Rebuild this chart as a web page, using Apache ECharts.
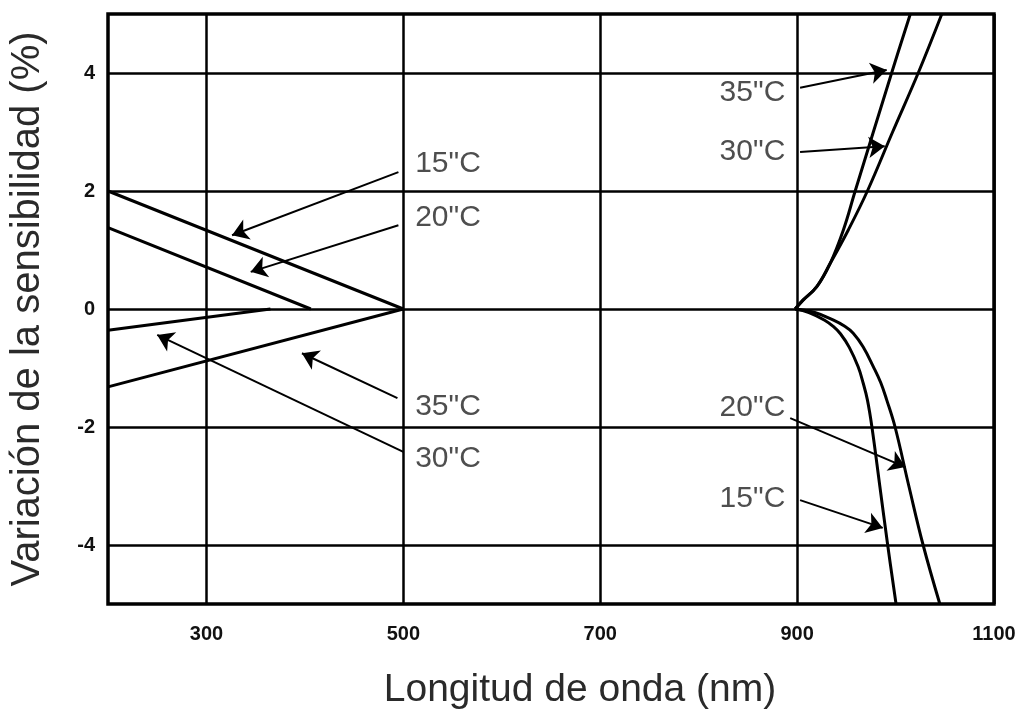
<!DOCTYPE html>
<html>
<head>
<meta charset="utf-8">
<script src="https://cdn.jsdelivr.net/npm/echarts@6/dist/echarts.min.js"></script>
<style>
html,body{margin:0;padding:0;background:#fff;}
#chart{width:1025px;height:710px;}
</style>
</head>
<body>
<div id="chart"></div>
<script>
// Axis ticks
const xTicks = [300, 500, 700, 900, 1100];
const yTicks = [-4, -2, 0, 2, 4];

// Curves (wavelength nm, sensitivity variation %)
const l15x = [200, 500];            const l15y = [2.0, 0];
const l20x = [200, 406];            const l20y = [1.38, 0];
const l35x = [200, 365];            const l35y = [-0.36, 0];
const l30x = [200, 500];            const l30y = [-1.32, 0];
const r35x = [898, 906, 920, 933.5, 947, 959, 996, 1015];
const r35y = [0, 0.15, 0.38, 0.77, 1.34, 2, 4, 5];
const r30x = [898, 906, 920, 933.5, 952, 971.4, 997, 1023, 1047];
const r30y = [0, 0.15, 0.38, 0.77, 1.34, 2, 3, 4, 5];
const r20x = [898, 918, 937, 948, 957, 967, 977.5, 985, 991, 999.5, 1013.5, 1028, 1045];
const r20y = [0, -0.06, -0.19, -0.29, -0.41, -0.64, -0.98, -1.25, -1.54, -2, -3, -4, -5];
const r15x = [898, 912, 928, 937, 944, 953, 962, 967, 971.4, 976, 984, 992, 1000.5];
const r15y = [0, -0.06, -0.19, -0.3, -0.42, -0.65, -0.98, -1.25, -1.54, -2, -3, -4, -5];

// Annotations
const noteText  = ['15"C', '20"C', '35"C', '30"C', '35"C', '30"C', '20"C', '15"C'];
const noteSide  = ['L', 'L', 'L', 'L', 'R', 'R', 'R', 'R'];
const noteX     = [512, 512, 512, 512, 888, 888, 888, 888];
const noteY     = [2.47, 1.54, -1.66, -2.53, 3.66, 2.66, -1.68, -3.22];
const arrowFromX = [495, 495, 494, 500, 903, 903, 893, 903];
const arrowFromY = [2.32, 1.42, -1.51, -2.42, 3.75, 2.66, -1.85, -3.24];
const arrowToX   = [326, 345, 397, 250, 991, 989, 1010, 987];
const arrowToY   = [1.25, 0.63, -0.75, -0.44, 4.05, 2.76, -2.68, -3.71];

const zip = (xs, ys) => xs.map((x, i) => [x, ys[i]]);

const curveStyle = { color: '#000', width: 3 };
function curve(name, xs, ys, smooth) {
  return {
    name: name, type: 'line', data: zip(xs, ys), showSymbol: false, symbol: 'none',
    smooth: smooth ? 0.4 : false, smoothConstraint: false,
    lineStyle: curveStyle, z: 5, silent: true
  };
}

const FONT = 'Liberation Sans, Arial, sans-serif';
const textStyle = { fontFamily: FONT, fontSize: 30, color: '#222' };

function notes(side) {
  const items = [];
  noteText.forEach((t, i) => {
    if (noteSide[i] === side) items.push({ value: [noteX[i], noteY[i]], name: t });
  });
  return {
    type: 'scatter', symbolSize: 0, data: items, silent: true, z: 6,
    label: Object.assign({ show: true, formatter: '{b}', position: side === 'L' ? 'right' : 'left', distance: 0 }, textStyle)
  };
}

const arrows = {
  type: 'line', data: [], silent: true, z: 6,
  markLine: {
    silent: true, symbol: ['none', 'arrow'], symbolSize: 16, animation: false,
    label: { show: false },
    lineStyle: { color: '#000', width: 2, type: 'solid' },
    data: arrowFromX.map((x, i) => [{ coord: [x, arrowFromY[i]] }, { coord: [arrowToX[i], arrowToY[i]] }])
  }
};

const chart = echarts.init(document.getElementById('chart'), null, { renderer: 'canvas' });
chart.setOption({
  animation: false,
  backgroundColor: '#fff',
  grid: { left: 108, right: 31, top: 14, bottom: 106, show: true, borderColor: '#000', borderWidth: 3.5, containLabel: false, outerBoundsMode: 'none' },
  xAxis: {
    type: 'value', min: 200, max: 1100,
    axisLine: { show: false },
    axisTick: { show: false, customValues: xTicks },
    axisLabel: { customValues: xTicks, formatter: v => String(v), fontSize: 20, fontWeight: 'bold', color: '#111', margin: 20, fontFamily: FONT },
    splitLine: { show: true, lineStyle: { color: '#000', width: 2.5 } },
    name: 'Longitud de onda (nm)', nameLocation: 'middle', nameGap: 67,
    nameTextStyle: { fontSize: 39, color: '#2a2a2a', fontFamily: FONT, padding: [0, 0, 0, 58] }
  },
  yAxis: {
    type: 'value', min: -5, max: 5,
    axisLine: { show: false },
    axisTick: { show: false, customValues: yTicks },
    axisLabel: { customValues: yTicks, formatter: v => String(v), fontSize: 20, fontWeight: 'bold', color: '#111', margin: 13, fontFamily: FONT },
    splitLine: { show: true, lineStyle: { color: '#000', width: 2.5 } },
    name: 'Variación de la sensibilidad (%)', nameLocation: 'middle', nameGap: 60,
    nameTextStyle: { fontSize: 40, color: '#2a2a2a', fontFamily: FONT }
  },
  series: [
    curve('15°C izq', l15x, l15y, false),
    curve('20°C izq', l20x, l20y, false),
    curve('35°C izq', l35x, l35y, false),
    curve('30°C izq', l30x, l30y, false),
    curve('35°C der', r35x, r35y, true),
    curve('30°C der', r30x, r30y, true),
    curve('20°C der', r20x, r20y, true),
    curve('15°C der', r15x, r15y, true),
    notes('L'),
    notes('R'),
    arrows
  ]
});
</script>
</body>
</html>
